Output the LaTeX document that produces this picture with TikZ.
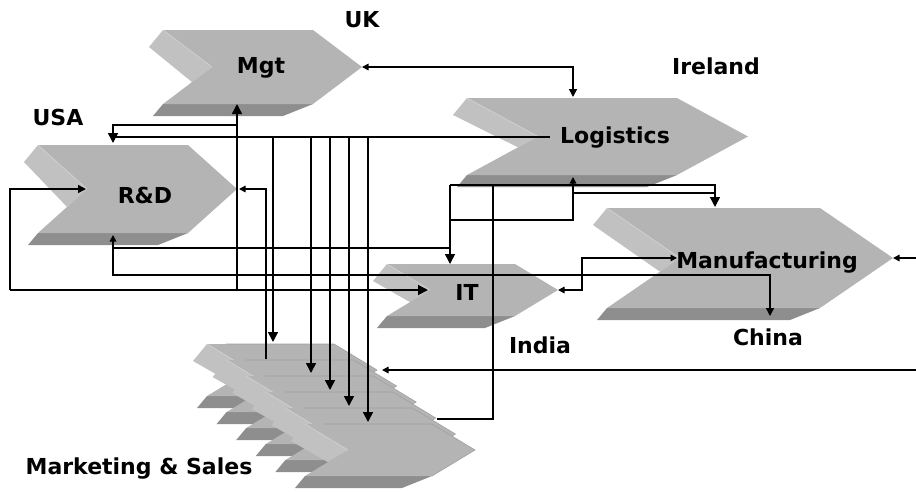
\documentclass[tikz,border=0pt]{standalone}
\usepackage{fontspec}
\setmainfont{DejaVu Sans}
\usetikzlibrary{arrows.meta}
\definecolor{facegray}{RGB}{180,180,180}
\definecolor{sidegray}{RGB}{193,193,193}
\definecolor{basegray}{RGB}{142,142,142}
\definecolor{hilitegray}{RGB}{212,212,212}
\definecolor{layergray}{RGB}{160,160,160}
\newcommand{\drawchev}[5]{%
  \fill[sidegray] (#1,#2) -- ({#1+#4},{#2+#5}) -- ({#1+#4-20},{#2+#5+20*#5/#4}) -- ({#1-14},{#2+17}) -- cycle;
  \fill[basegray] (#1,{#2+2*#5}) -- ({#1+#3},{#2+2*#5}) -- ({#1+#3-30},{#2+2*#5+12}) -- ({#1-10},{#2+2*#5+12}) -- cycle;
  \fill[facegray] (#1,#2) -- ({#1+#3},#2) -- ({#1+#3+#4},{#2+#5}) -- ({#1+#3},{#2+2*#5}) -- (#1,{#2+2*#5}) -- ({#1+#4},{#2+#5}) -- cycle;
  \draw[hilitegray,line width=0.6pt] (#1,#2) -- ({#1+#4},{#2+#5});
}
\begin{document}
\begin{tikzpicture}[x=1pt,y=-1pt,
    lbl/.style={font=\bfseries\fontsize{22}{26}\selectfont,inner sep=0pt,anchor=base},
    link/.style={line width=1.5pt},
    bigtip/.tip={Triangle[length=10pt,width=10pt]},
    midtip/.tip={Triangle[length=8pt,width=8pt]},
    smalltip/.tip={Triangle[length=6.5pt,width=6.5pt]}]
  \useasboundingbox (0,0) rectangle (916,491);
  \drawchev{163}{30}{150}{49}{37}
  \drawchev{467}{98}{210}{71}{38.5}
  \drawchev{38}{145}{150}{49}{44}
  \drawchev{607}{208}{213}{73}{50}
  \drawchev{387}{264}{128}{43}{26}
  \foreach \i in {0,...,5} {
    \drawchev{207+19.6*\i}{344+16*\i}{127}{43}{26}
    \draw[layergray,line width=0.6pt] ({207+19.6*\i+19},{344+16*\i}) -- ({334+19.6*\i},{344+16*\i}) -- ({377+19.6*\i},{370+16*\i}) -- ({334+19.6*\i},{396+16*\i});
  }
  \node[lbl] (mgt) at (261,73) {Mgt};
  \node[lbl] (log) at (615,143) {Logistics};
  \node[lbl] (rnd) at (145,203) {R\&D};
  \node[lbl] (it) at (467,300) {IT};
  \node[lbl] (mfg) at (767,268) {Manufacturing};
  \node[lbl] (uk) at (362,27) {UK};
  \node[lbl] (usa) at (58,125) {USA};
  \node[lbl] (ire) at (716,74) {Ireland};
  \node[lbl] (ind) at (540,353) {India};
  \node[lbl] (chn) at (768,345) {China};
  \node[lbl] (mks) at (139,474) {Marketing \& Sales};
  \coordinate (mgt-tip) at (362,67);
  \coordinate (mgt-in) at (237,104);
  \coordinate (log-top) at (573,97);
  \coordinate (log-bot) at (573,177);
  \coordinate (log-notch) at (550,137);
  \coordinate (rnd-top) at (113,143);
  \coordinate (rnd-tip) at (239,189);
  \coordinate (rnd-notch) at (86,189);
  \coordinate (rnd-bot) at (113,235);
  \coordinate (it-top) at (450,264);
  \coordinate (it-notch) at (428,290);
  \coordinate (it-tip) at (558,290);
  \coordinate (mfg-top) at (715,207);
  \coordinate (mfg-notch) at (677,258);
  \coordinate (mfg-tip) at (893,258);
  \coordinate (mfg-bot) at (770,316);
  \coordinate (mkt-0) at (273,342);
  \coordinate (mkt-1) at (311,373);
  \coordinate (mkt-2) at (330,390);
  \coordinate (mkt-3) at (349,406);
  \coordinate (mkt-4) at (368,422);
  \coordinate (mkt-r) at (382,370);
  \coordinate (mkt-out) at (266,359);
  \coordinate (mkt-side) at (437,419);
  \coordinate (east-a) at (916,258);
  \coordinate (east-b) at (916,370);
  \coordinate (k1) at (113,125);
  \coordinate (k2) at (10,290);
  \coordinate (k3) at (113,275);
  \coordinate (k4) at (113,248);
  \coordinate (k5) at (450,185);
  \coordinate (k6) at (450,220);
  \coordinate (k7) at (573,193);
  \coordinate (k8) at (493,185);
  \coordinate (k9) at (582,290);
  \begin{scope}[link]
    \draw[smalltip-midtip] (mgt-tip) -| (log-top);
    \draw[-bigtip] (log-notch) -| (rnd-top);
    \foreach \n in {0,...,4}
      \draw[-bigtip] (mkt-\n |- log-notch) -- (mkt-\n);
    \draw (mgt-in |- k1) -- (k1) -- (k1 |- log-notch);
    \draw[-bigtip] (mgt-in |- k2) -- (mgt-in);
    \draw[-midtip] (k2) |- (rnd-notch);
    \draw[-bigtip] (k2) -- (it-notch);
    \draw[-smalltip] (mkt-out) |- (rnd-tip);
    \draw[smalltip-midtip] (rnd-bot) -- (k3) -| (mfg-bot);
    \draw[-bigtip] (k4) -| (it-top);
    \draw (k5) -- (it-top |- k4);
    \draw[-bigtip] (k5) -| (mfg-top);
    \draw[-smalltip] (k6) -| (log-bot);
    \draw (k7) -| (mfg-top |- k5);
    \draw (mkt-side) -| (k8);
    \draw[smalltip-smalltip] (it-tip) -- (k9) |- (mfg-notch);
    \draw[-smalltip] (east-a) -- (mfg-tip);
    \draw[-smalltip] (east-b) -- (mkt-r);
  \end{scope}
\end{tikzpicture}
\end{document}
